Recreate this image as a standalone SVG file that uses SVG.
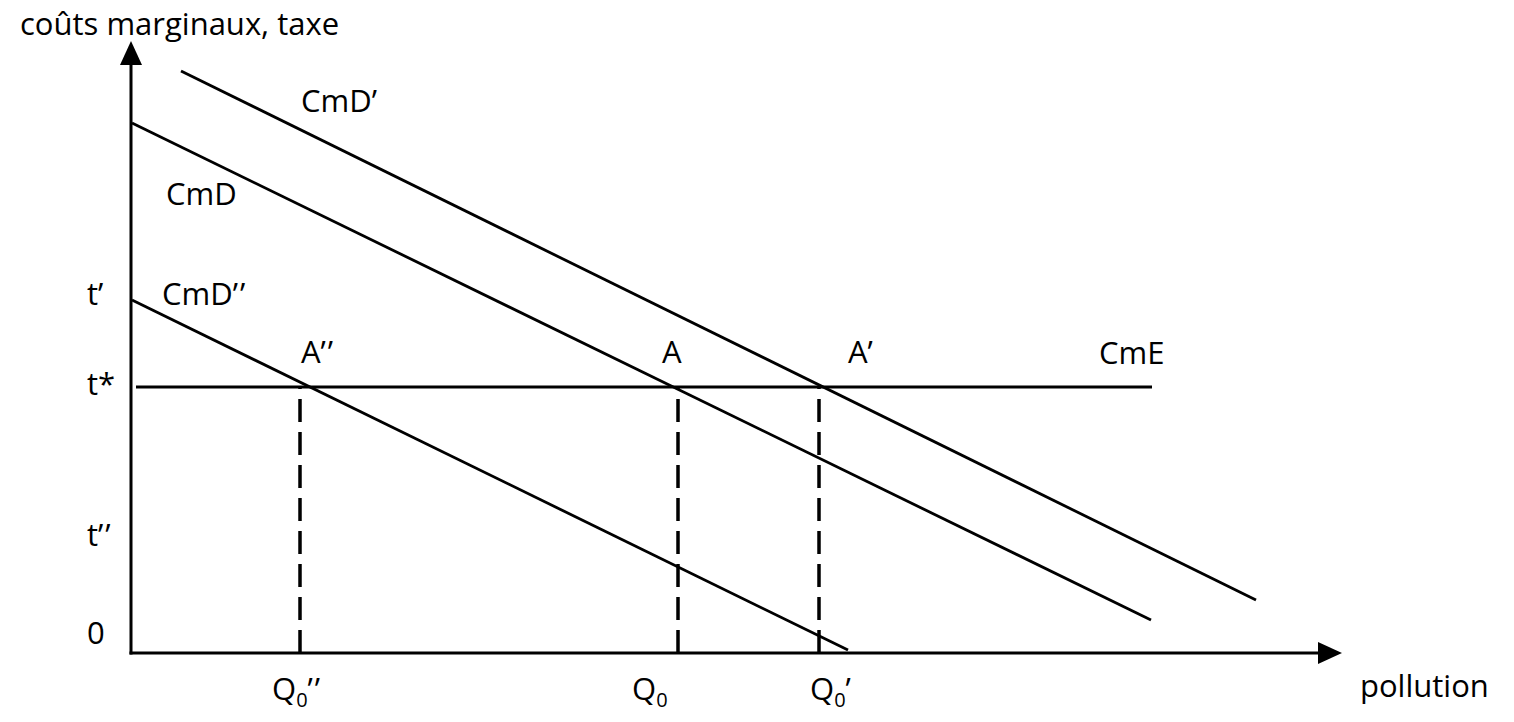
<svg xmlns="http://www.w3.org/2000/svg" width="1514" height="722" viewBox="0 0 1514 722">
  <style>
    text { font-family: "Open Sans", "Liberation Sans", sans-serif; font-size: 31px; fill: #000; }
    .sub { font-size: 20px; }
    .axis { stroke: #000; stroke-width: 3; fill: none; }
    .curve { stroke: #000; stroke-width: 2.8; fill: none; }
    .dash { stroke: #000; stroke-width: 3.5; fill: none; stroke-dasharray: 23 10; }
  </style>
  <defs>
    <marker id="arrow" markerUnits="userSpaceOnUse" markerWidth="24" markerHeight="22" refX="0" refY="11" orient="auto">
      <path d="M0,0 L24,11 L0,22 z" fill="#000"/>
    </marker>
  </defs>
  <rect width="1514" height="722" fill="#fff"/>

  <g id="axes">
    <line class="axis" x1="131" y1="654.5" x2="131" y2="65" marker-end="url(#arrow)"/>
    <line class="axis" x1="129.5" y1="653" x2="1318" y2="653" marker-end="url(#arrow)"/>
  </g>

  <g id="connectors">
    <line id="cmd-prime" class="curve" x1="181" y1="71" x2="1256" y2="600"/>
    <line id="cmd" class="curve" x1="132" y1="123" x2="1151" y2="620"/>
    <line id="cmd-second" class="curve" x1="132" y1="300" x2="848" y2="650"/>
    <line id="cme" class="curve" x1="136" y1="387" x2="1152" y2="387"/>
    <line class="dash" x1="300" y1="653" x2="300" y2="388"/>
    <line class="dash" x1="678" y1="653" x2="678" y2="388"/>
    <line class="dash" x1="819" y1="653" x2="819" y2="388"/>
  </g>

  <g id="labels">
    <text x="20" y="35">coûts marginaux, taxe</text>
    <text x="301" y="112">CmD’</text>
    <text x="166" y="205">CmD</text>
    <text x="87" y="305">t’</text>
    <text x="162" y="305">CmD’<tspan dx="2">’</tspan></text>
    <text x="301" y="363">A’<tspan dx="2">’</tspan></text>
    <text x="662" y="363">A</text>
    <text x="848" y="363">A’</text>
    <text x="1099" y="364">CmE</text>
    <text x="87" y="395">t*</text>
    <text x="87" y="546">t’<tspan dx="2">’</tspan></text>
    <text x="87" y="644">0</text>
    <text x="272" y="700">Q<tspan class="sub" dy="7">0</tspan><tspan dy="-7">’</tspan><tspan dx="2">’</tspan></text>
    <text x="632" y="700">Q<tspan class="sub" dy="7">0</tspan></text>
    <text x="810" y="700">Q<tspan class="sub" dy="7">0</tspan><tspan dy="-7">’</tspan></text>
    <text x="1360" y="697">pollution</text>
  </g>
</svg>
